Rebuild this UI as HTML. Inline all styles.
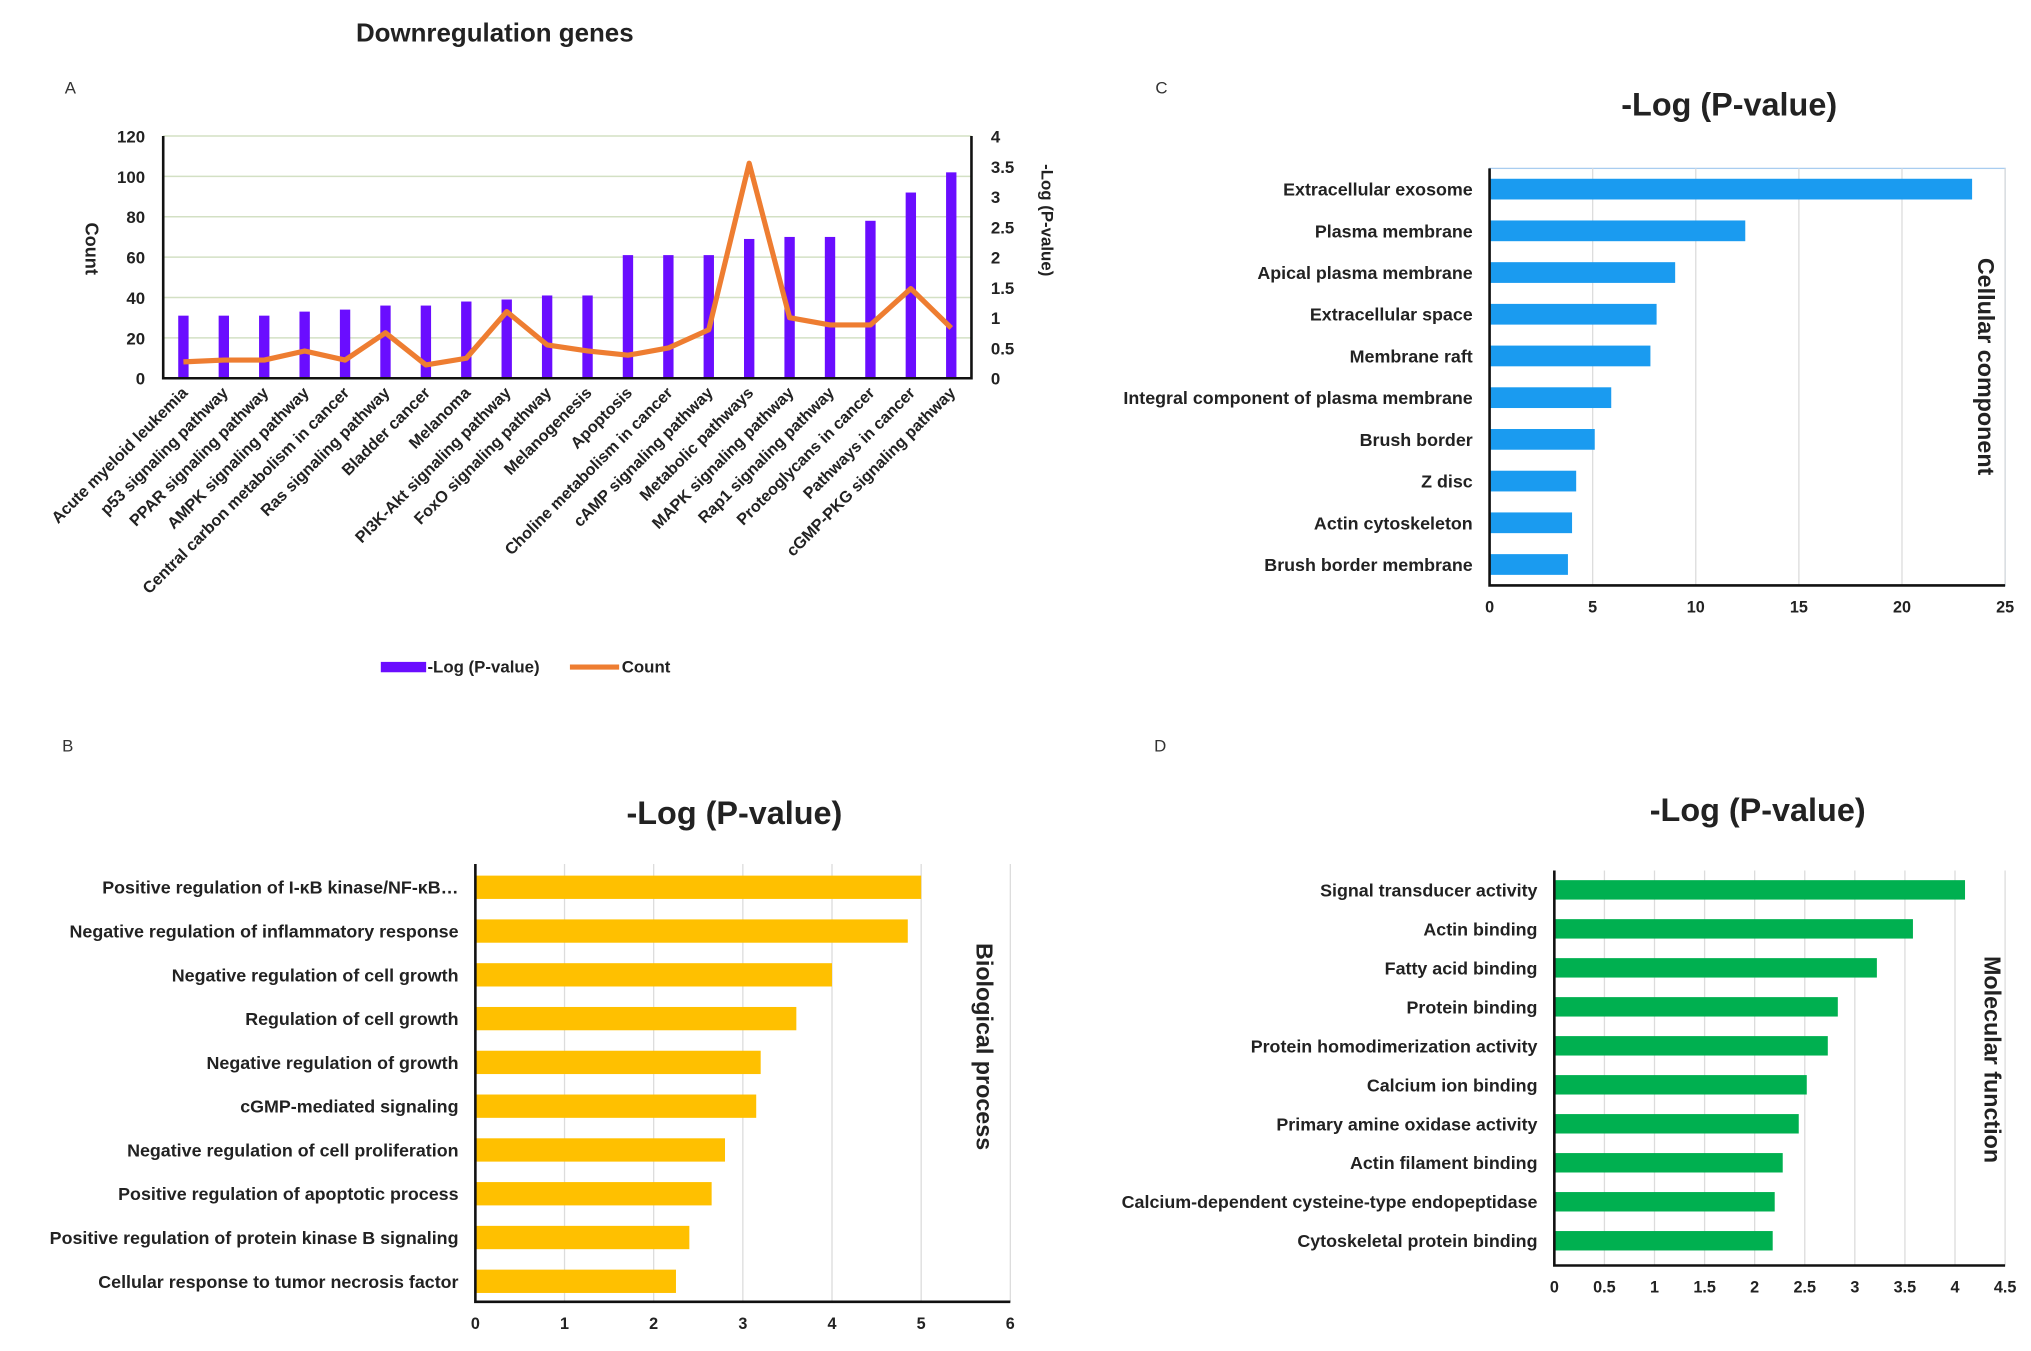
<!DOCTYPE html>
<html><head><meta charset="utf-8">
<style>
html,body{margin:0;padding:0;background:#fff;}
svg{display:block;font-family:"Liberation Sans",sans-serif;font-weight:bold;}
</style></head>
<body>
<svg id="root" width="2031" height="1351" viewBox="0 0 1568 1043" xmlns="http://www.w3.org/2000/svg">
<g id="A"></g>
<g id="B"></g>
<g id="C"></g>
<g id="D"></g>
</svg>
<script>
const aCategories=["Acute myeloid leukemia","p53 signaling pathway","PPAR signaling pathway","AMPK signaling pathway","Central carbon metabolism in cancer","Ras signaling pathway","Bladder cancer","Melanoma","PI3K-Akt signaling pathway","FoxO signaling pathway","Melanogenesis","Apoptosis","Choline metabolism in cancer","cAMP signaling pathway","Metabolic pathways","MAPK signaling pathway","Rap1 signaling pathway","Proteoglycans in cancer","Pathways in cancer","cGMP-PKG signaling pathway"];
const aBarValues=[31,31,31,33,34,36,36,38,39,41,41,61,61,61,69,70,70,78,92,102];
const aLineValues=[0.27,0.3,0.3,0.45,0.3,0.75,0.22,0.33,1.1,0.55,0.45,0.38,0.5,0.8,3.55,1.0,0.88,0.88,1.48,0.83];
const aLeftTicks=[0,20,40,60,80,100,120];
const aRightTicks=["0","0.5","1","1.5","2","2.5","3","3.5","4"];

const bCategories=["Positive regulation of I-κB kinase/NF-κB…","Negative regulation of inflammatory response","Negative regulation of cell growth","Regulation of cell growth","Negative regulation of growth","cGMP-mediated signaling","Negative regulation of cell proliferation","Positive regulation of apoptotic process","Positive regulation of protein kinase B signaling","Cellular response to tumor necrosis factor"];
const bValues=[5.0,4.85,4.0,3.6,3.2,3.15,2.8,2.65,2.4,2.25];
const bTicks=[0,1,2,3,4,5,6];

const cCategories=["Extracellular exosome","Plasma membrane","Apical plasma membrane","Extracellular space","Membrane raft","Integral component of plasma membrane","Brush border","Z disc","Actin cytoskeleton","Brush border  membrane"];
const cValues=[23.4,12.4,9.0,8.1,7.8,5.9,5.1,4.2,4.0,3.8];
const cTicks=[0,5,10,15,20,25];

const dCategories=["Signal  transducer activity","Actin binding","Fatty acid binding","Protein binding","Protein homodimerization activity","Calcium ion binding","Primary amine oxidase activity","Actin filament binding","Calcium-dependent cysteine-type endopeptidase","Cytoskeletal protein binding"];
const dValues=[4.1,3.58,3.22,2.83,2.73,2.52,2.44,2.28,2.2,2.18];
const dTicks=[0,0.5,1,1.5,2,2.5,3,3.5,4,4.5];

const NS="http://www.w3.org/2000/svg";
function mk(parent,tag,attrs,text){const e=document.createElementNS(NS,tag);for(const k in attrs)e.setAttribute(k,attrs[k]);if(text!==undefined)e.textContent=text;parent.appendChild(e);return e;}

// ---------- Panel A ----------
(function(){
const g=document.getElementById('A');
const L=126,R=750,T=105,Bt=292;
const yL=v=>Bt-(v/120)*(Bt-T);
const yR=v=>Bt-(v/4)*(Bt-T);
const step=(R-L)/aCategories.length;
const xc=i=>L+step*(i+0.5);
let t=mk(g,'text',{x:382,y:32,'text-anchor':'middle','font-size':20,fill:'#222'},'Downregulation genes');

t=mk(g,'text',{x:50,y:72,'font-size':13,'font-weight':'normal',fill:'#333'},'A');

aLeftTicks.forEach(v=>{
  const l=mk(g,'line',{x1:L,x2:R,y1:yL(v),y2:yL(v),stroke:'#d3e0c4','stroke-width':1.2});
  
  const tx=mk(g,'text',{x:L-14,y:yL(v)+5,'text-anchor':'end','font-size':13,fill:'#222'},String(v));
  
});
aRightTicks.forEach(s=>{
  const tx=mk(g,'text',{x:R+15,y:yR(parseFloat(s))+5,'font-size':13,fill:'#222'},s);
  
});
aBarValues.forEach((v,i)=>{
  const r=mk(g,'rect',{x:xc(i)-4,y:yL(v),width:8,height:Bt-yL(v),fill:'#6a0dff'});
  
});
const pts=aLineValues.map((v,i)=>xc(i)+','+yR(v)).join(' ');
const pl=mk(g,'polyline',{points:pts,fill:'none',stroke:'#ee7d31','stroke-width':4,'stroke-linejoin':'round'});

let ax=mk(g,'path',{d:`M${L},${T} V${Bt} H${R} V${T}`,fill:'none',stroke:'#111','stroke-width':2});

aCategories.forEach((c,i)=>{
  const x=xc(i)+4,y=Bt+12;
  const tx=mk(g,'text',{x:x,y:y,'text-anchor':'end','font-size':12.5,fill:'#222',transform:`rotate(-45 ${x} ${y})`},c);
  
});
t=mk(g,'text',{x:0,y:0,'text-anchor':'middle','font-size':14,fill:'#222',transform:`translate(66 192) rotate(90)`},'Count');

t=mk(g,'text',{x:0,y:0,'text-anchor':'middle','font-size':13,fill:'#222',transform:`translate(804 170) rotate(90)`},'-Log (P-value)');

let r=mk(g,'rect',{x:294,y:511,width:35,height:8,fill:'#6a0dff'});

t=mk(g,'text',{x:330,y:519,'font-size':13,fill:'#222'},'-Log (P-value)');

let l=mk(g,'line',{x1:440,x2:478,y1:515,y2:515,stroke:'#ee7d31','stroke-width':4});

t=mk(g,'text',{x:480,y:519,'font-size':13,fill:'#222'},'Count');

})();

// ---------- horizontal bar charts ----------
function hbar(id,cats,vals,ticks,o){
  const g=document.getElementById(id);
  const x=v=>o.L+(v/o.max)*(o.R-o.L);
  const y=i=>o.y0+i*o.dy;
  let t=mk(g,'text',{x:o.letterX,y:o.letterY,'font-size':13,'font-weight':'normal',fill:'#333'},o.letter);
  
  t=mk(g,'text',{x:o.titleX,y:o.titleY,'text-anchor':'middle','font-size':25,fill:'#222'},'-Log (P-value)');
  
  if(o.frame){const f=mk(g,'rect',{x:o.L,y:o.T,width:o.R-o.L,height:o.Bt-o.T,fill:'none',stroke:'#a9cdf0','stroke-width':1});
    }
  ticks.forEach(v=>{
    const gl=mk(g,'line',{x1:x(v),x2:x(v),y1:o.T,y2:o.Bt,stroke:'#dcdcdc','stroke-width':1});
    
    const tx=mk(g,'text',{x:x(v),y:o.Bt+21,'text-anchor':'middle','font-size':12.5,fill:'#222'},String(v));
    
  });
  vals.forEach((v,i)=>{
    const r=mk(g,'rect',{x:o.L,y:y(i)-o.bh/2,width:x(v)-o.L,height:o.bh,fill:o.color});
    
  });
  cats.forEach((c,i)=>{
    const tx=mk(g,'text',{x:o.L-13,y:y(i)+5,'text-anchor':'end','font-size':13.8,fill:'#222'},c);
    
  });
  const ax=mk(g,'path',{d:`M${o.L},${o.T} V${o.Bt} H${o.R}`,fill:'none',stroke:'#111','stroke-width':2});
  
  t=mk(g,'text',{x:0,y:0,'text-anchor':'middle','font-size':18,fill:'#222',transform:`translate(${o.sideX} ${o.sideY}) rotate(90)`},o.side);
  
}
hbar('B',bCategories,bValues,bTicks,{L:367,R:780,T:667,Bt:1005,max:6,y0:685,dy:33.8,bh:18,color:'#ffc000',letter:'B',letterX:48,letterY:580,titleX:567,titleY:636,side:'Biological process',sideX:754,sideY:808});
hbar('C',cCategories,cValues,cTicks,{L:1150,R:1548,T:130,Bt:452,max:25,y0:146,dy:32.2,bh:16,color:'#1a9bf0',frame:true,letter:'C',letterX:892,letterY:72,titleX:1335,titleY:89,side:'Cellular component',sideX:1527,sideY:283});
hbar('D',dCategories,dValues,dTicks,{L:1200,R:1548,T:672,Bt:977,max:4.5,y0:687,dy:30.1,bh:15,color:'#00b050',letter:'D',letterX:891,letterY:580,titleX:1357,titleY:634,side:'Molecular function',sideX:1532,sideY:818});
</script>
</body></html>
